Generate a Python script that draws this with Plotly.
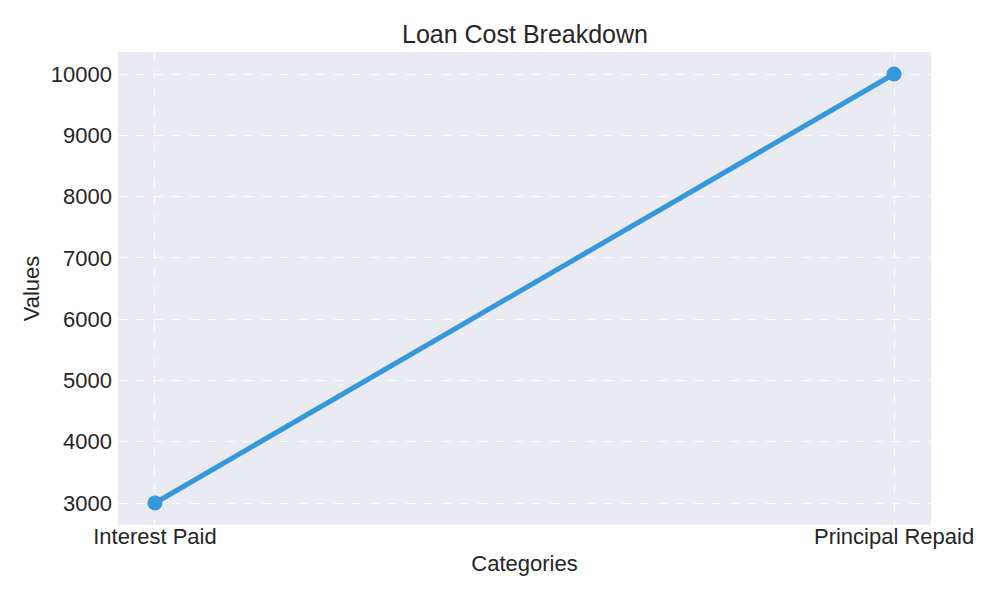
import plotly.graph_objects as go

categories = ["Interest Paid", "Principal Repaid"]
values = [3000, 10000]

fig = go.Figure()
fig.add_trace(go.Scatter(
    x=categories, y=values, mode="lines+markers",
    line=dict(color="#3498db", width=5),
    marker=dict(color="#3498db", size=15),
    showlegend=False,
))

font = "Liberation Sans, Arial, sans-serif"
fig.update_layout(
    width=1000, height=600,
    paper_bgcolor="white", plot_bgcolor="#eaeaf2",
    margin=dict(l=110, r=77, t=44, b=83),
    font=dict(family=font, color="#262626", size=22),
    title=dict(text="Loan Cost Breakdown", x=0.517, xanchor="center", y=0.957, yanchor="middle",
               font=dict(size=25, color="#262626")),
)
fig.update_xaxes(
    range=[-0.05, 1.05], showgrid=True, gridcolor="rgba(255,255,255,0.85)", griddash="dash", gridwidth=1,
    zeroline=False, showline=False, ticks="", ticklabelstandoff=-4,
    tickfont=dict(size=22),
    title=dict(text="Categories", font=dict(size=22), standoff=7),
)
fig.update_yaxes(
    range=[2641, 10359], tickvals=[3000, 4000, 5000, 6000, 7000, 8000, 9000, 10000],
    ticktext=["3000", "4000", "5000", "6000", "7000", "8000", "9000", "10000"],
    showgrid=True, gridcolor="rgba(255,255,255,0.85)", griddash="dash", gridwidth=1,
    zeroline=False, showline=False, ticks="", ticklabelstandoff=5,
    tickfont=dict(size=22),
    title=dict(text="Values", font=dict(size=22), standoff=5),
)
fig.write_html("out.html")
